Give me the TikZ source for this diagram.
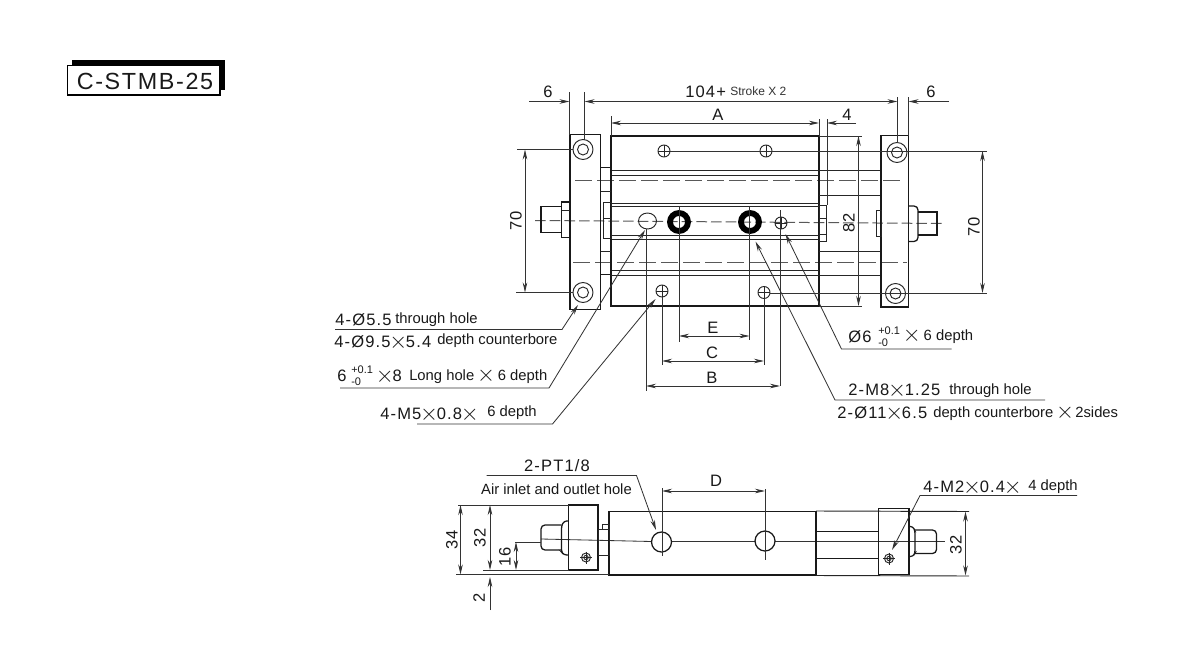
\documentclass[tikz,border=0pt]{standalone}
\usepackage{fontspec}
\usetikzlibrary{arrows.meta}
\setmainfont{Liberation Sans}
\newfontfamily\spacedfont[LetterSpace=7]{Liberation Sans}
\newcommand{\bigf}{\spacedfont\fontsize{12.4}{14}\selectfont}
\newcommand{\txtf}{\rmfamily\fontsize{11.1}{13}\selectfont}
\newcommand{\supf}{\rmfamily\fontsize{8.25}{9}\selectfont}
\newcommand{\titlef}{\spacedfont\fontsize{17.5}{20}\selectfont}
\newcommand{\timesx}{{\fontsize{17.28}{14}\selectfont\smash{\raisebox{-0.6pt}{$\mkern-1mu\times\mkern-1mu$}}}}
\tikzset{
  part/.style={line width=0.95pt,draw=black!90},
  thin part/.style={line width=0.7pt,draw=black!85},
  dimline/.style={line width=0.62pt,draw=black!80},
  center line/.style={line width=0.75pt,draw=black!65,dash pattern=on 8pt off 3pt},
  long line/.style={line width=0.75pt,draw=black!65,dash pattern=on 13pt off 3.5pt},
  biglbl/.style={inner sep=0pt,font=\bigf,text=black!90},
  txtlbl/.style={inner sep=0pt,font=\txtf,text=black!90},
  suplbl/.style={inner sep=0pt,font=\supf,text=black!90}
}
\begin{document}
\begin{tikzpicture}[x=0.75pt,y=-0.75pt,>={Stealth[length=7.5pt,width=3.4pt]}]
  \useasboundingbox (0,0) rectangle (1200,650);
  \fill[white] (0,0) rectangle (1200,650);

  % title
  \fill[black] (71.5,60) rectangle (225,90);
  \draw[line width=0.8pt,fill=white] (67.5,65.5) rectangle (220,95);
  \node[inner sep=0pt,font=\titlef,text=black!90] (title) at (145,81) {C-STMB-25};

  % top view, center lines
  \draw[long line] (575,180) -- (905,180);
  \draw[long line] (573,262) -- (907,262);
  \draw[center line] (535,220.5) -- (945,223.5);

  % top view, body
  \draw[part] (611,136) rectangle (819,306);
  \foreach \y in {170,175,203,206,235,239,270,275}
    \draw[thin part] (611,\y) -- (819,\y);

  % top view, rods to the right plate
  \foreach \y in {170,195,251,275}
    \draw[thin part] (819,\y) -- (881,\y);
  \draw[thin part] (819,205) rectangle (826,241.5);
  \draw[thin part] (819,218) -- (826,218);
  \draw[thin part] (819,234) -- (826,234);

  % top view, left plate and spacer
  \draw[part] (570,134.5) rectangle (600.5,309.5);
  \draw[part] (600.5,167.5) rectangle (611,274.5);
  \draw[thin part] (600.5,191.5) -- (611,191.5);
  \draw[thin part] (600.5,251) -- (611,251);
  \draw[thin part] (603,202) rectangle (611,238);
  \draw[thin part] (603,218) -- (611,218);

  % top view, left rod
  \draw[part] (561.5,206.5) -- (541,206.5) -- (541,232.5) -- (561.5,232.5);
  \draw[part] (561.5,202) rectangle (570,237.5);
  \draw[thin part] (561.5,210.5) -- (570,210.5);

  % top view, right plate and rod
  \draw[part] (881,135.5) rectangle (908.5,307);
  \draw[thin part] (876,210) rectangle (881,236.5);
  \draw[part,rounded corners=3pt] (908.5,206) -- (918,206) -- (918,241.5) -- (908.5,241.5);
  \draw[part] (918,212) -- (937,212) -- (937,235) -- (918,235);

  % plate holes
  \foreach \px/\py in {583/149.5,583/292.5,897/152.5,895.5/293.5} {
    \draw[thin part] (\px,\py) circle (10);
    \draw[thin part] (\px,\py) circle (5.5);
  }

  % tapped holes
  \foreach \px/\py in {664/151,766/151,662/291,764/292.5,781/223} {
    \draw[thin part] (\px,\py) circle (6);
    \draw[thin part] (\px-6,\py) -- (\px+6,\py);
    \draw[thin part] (\px,\py-6) -- (\px,\py+6);
  }

  % ports and long hole
  \draw[line width=4.4pt] (679,222) circle (9);
  \draw[line width=4.4pt] (750,222) circle (9);
  \draw[thin part] (647.5,221) ellipse (9 and 8);

  % upper dimensions
  \draw[dimline] (569.5,92) -- (569.5,134.5);
  \draw[dimline] (584.5,92) -- (584.5,140);
  \draw[dimline] (897.5,97) -- (897.5,143);
  \draw[dimline] (908.5,97) -- (908.5,135.5);
  \draw[dimline,->] (529,101.5) -- (569.5,101.5);
  \draw[dimline,<->] (584.5,101.5) -- (897.5,101.5);
  \draw[dimline,->] (949,101.5) -- (908.5,101.5);
  \node[biglbl] (six left) at (548,92) {6};
  \node[biglbl,anchor=west] (stroke base) at (685,92) {104+};
  \node[inner sep=0pt,anchor=west,font=\rmfamily\fontsize{9}{10}\selectfont,text=black!80] (stroke) at (730,91.5) {Stroke X 2};
  \node[biglbl] (six right) at (931,92) {6};

  \draw[dimline] (611,116) -- (611,136);
  \draw[dimline] (819,119) -- (819,136);
  \draw[dimline] (827,119) -- (827,205);
  \draw[dimline,<->] (611,123) -- (819,123);
  \draw[dimline,->] (856,123) -- (827,123);
  \node[biglbl] (dim A) at (718,115) {A};
  \node[biglbl] (four) at (847,115) {4};

  % side dimensions
  \draw[dimline] (517,149.5) -- (573,149.5);
  \draw[dimline] (516,292.5) -- (573,292.5);
  \draw[dimline,<->] (525,149.5) -- (525,292.5);
  \node[biglbl,rotate=90] (seventy left) at (516,221) {70};

  \draw[dimline] (670,151) -- (987,151);
  \draw[dimline] (770,293) -- (987,293);
  \draw[dimline,<->] (982.5,151) -- (982.5,293);
  \node[biglbl,rotate=90] (seventy right) at (974,227) {70};

  \draw[dimline] (819,136) -- (862,136);
  \draw[dimline] (819,306) -- (862,306);
  \draw[dimline,<->] (858.5,136) -- (858.5,306);
  \node[biglbl,rotate=90] (dim 82) at (849,223) {82};

  % lower dimensions
  \draw[dimline] (679,206) -- (679,342);
  \draw[dimline] (749.5,206) -- (749.5,340);
  \draw[dimline,<->] (679,336) -- (749.5,336);
  \node[biglbl] (dim E) at (713,328) {E};
  \draw[dimline] (662,297) -- (662,365);
  \draw[dimline] (764,299) -- (764,365);
  \draw[dimline,<->] (662,361) -- (764,361);
  \node[biglbl] (dim C) at (712,353) {C};
  \draw[dimline] (646,229) -- (646,391);
  \draw[dimline] (780,210) -- (780,386);
  \draw[dimline,<->] (646,386) -- (780,386);
  \node[biglbl] (dim B) at (712,378) {B};

  % leaders, left
  \draw[dimline,->] (335,329.5) -- (562,329.5) -- (578,305);
  \node[biglbl,anchor=west] (bore a) at (335,319.5) {4-Ø5.5};
  \node[txtlbl,anchor=west] (bore b) at (395,320) {through hole};
  \node[biglbl,anchor=west] (bore c) at (334,341.5) {4-Ø9.5\timesx5.4};
  \node[txtlbl,anchor=west] (bore d) at (437,341) {depth counterbore};

  \draw[dimline,->] (340,388) -- (549,388) -- (645,230);
  \node[biglbl,anchor=west] (long a) at (337,376) {6};
  \node[suplbl,anchor=west] (long b) at (351,369.5) {+0.1};
  \node[suplbl,anchor=west] (long c) at (351,382) {-0};
  \node[biglbl,anchor=west] (long d) at (377,376) {\timesx8};
  \node[txtlbl,anchor=west] (long e) at (409,377) {Long hole \timesx\ 6 depth};

  \draw[dimline,->] (417,424) -- (552.5,424) -- (655.5,299);
  \node[biglbl,anchor=west] (mfive a) at (380,414) {4-M5\timesx0.8\timesx};
  \node[txtlbl,anchor=west] (mfive b) at (487,413) {6 depth};

  % leaders, right
  \draw[dimline,->] (951.5,349) -- (841.5,349) -- (785.5,234);
  \node[biglbl,anchor=west] (pin a) at (848,337) {Ø6};
  \node[suplbl,anchor=west] (pin b) at (878,331) {+0.1};
  \node[suplbl,anchor=west] (pin c) at (878,343) {-0};
  \node[txtlbl,anchor=west] (pin d) at (904,337) {\timesx\ 6 depth};

  \draw[dimline,->] (1045,400) -- (835,400) -- (755.5,241.5);
  \node[biglbl,anchor=west] (port a) at (848,390) {2-M8\timesx1.25};
  \node[txtlbl,anchor=west] (port b) at (949,391) {through hole};
  \node[biglbl,anchor=west] (port c) at (837,413) {2-Ø11\timesx6.5};
  \node[txtlbl,anchor=west] (port d) at (933,413.5) {depth counterbore \timesx\,2sides};

  % side view, body
  \draw[dimline] (541,539) -- (651.5,541.5);
  \draw[dimline] (672,541.5) -- (755,541.5);
  \draw[dimline] (775,541.5) -- (945,541.5);
  \draw[part] (609,511.5) rectangle (816,575);
  \draw[part] (661.5,542) circle (10);
  \draw[part] (765,541) circle (10);

  % side view, left end
  \draw[part] (568.5,505) rectangle (598,570);
  \draw[thin part] (598,529.5) rectangle (609,555);
  \draw[thin part] (602,524) rectangle (609,529.5);
  \draw[part,rounded corners=2pt] (568.5,521) -- (564,521) -- (561.5,526) -- (561.5,552) -- (564,555) -- (568.5,555);
  \draw[part,rounded corners=3pt] (561.5,525) -- (541,525) -- (541,550) -- (561.5,550);

  % side view, right end
  \draw[thin part] (816,511) -- (969,511.5);
  \draw[thin part] (816,575.5) -- (969,576);
  \draw[part] (816,531.5) -- (878.5,531.5);
  \draw[part] (816,558.5) -- (878.5,558.5);
  \draw[part] (878.5,508.5) rectangle (909,574.5);
  \draw[part,rounded corners=2pt] (909,526.5) -- (913,526.5) -- (915,531) -- (915,553) -- (913,556.5) -- (909,556.5);
  \draw[part,rounded corners=3pt] (915,530) -- (936.5,530) -- (936.5,553.5) -- (915,553.5);

  % side view, M2 holes
  \foreach \px/\py in {586/557.5,889/558.5} {
    \draw[thin part] (\px,\py) circle (4.5);
    \draw[thin part] (\px,\py) circle (2.2);
    \draw[thin part] (\px-6,\py) -- (\px+6,\py);
    \draw[thin part] (\px,\py-6) -- (\px,\py+6);
  }

  % side view, dimensions
  \draw[dimline] (662,488) -- (662,556);
  \draw[dimline] (765,489) -- (765,560);
  \draw[dimline,<->] (662,491) -- (765,491);
  \node[biglbl] (dim D) at (716,481) {D};

  \draw[dimline,->] (486.5,475.5) -- (636.5,475.5) -- (656,530);
  \node[biglbl] (pt a) at (557,466) {2-PT1/8};
  \node[txtlbl] (pt b) at (556.5,489) {Air inlet and outlet hole};

  \draw[dimline,->] (1077,495.5) -- (920,495.5) -- (892,550);
  \node[biglbl,anchor=west] (mtwo a) at (923,487) {4-M2\timesx0.4\timesx};
  \node[txtlbl,anchor=west] (mtwo b) at (1028,487) {4 depth};

  \draw[dimline] (458,505) -- (568.5,505);
  \draw[dimline] (456,574.5) -- (609,574.5);
  \draw[dimline,<->] (460.5,505) -- (460.5,574.5);
  \node[biglbl,rotate=90] (dim 34) at (452,540) {34};

  \draw[dimline] (483,570) -- (568.5,570);
  \draw[dimline,<->] (490,505) -- (490,570);
  \node[biglbl,rotate=90] (dim 32 left) at (480,538) {32};

  \draw[dimline] (515,542) -- (541,542);
  \draw[dimline,<->] (516,542) -- (516,570);
  \node[biglbl,rotate=90] (dim 16) at (505,557) {16};

  \draw[dimline,->] (490,610) -- (490,577);
  \node[biglbl,rotate=90] (dim 2) at (479,598) {2};

  \draw[dimline,<->] (965.5,511.5) -- (965.5,575.5);
  \node[biglbl,rotate=90] (dim 32 right) at (956,545) {32};
\end{tikzpicture}
\end{document}
